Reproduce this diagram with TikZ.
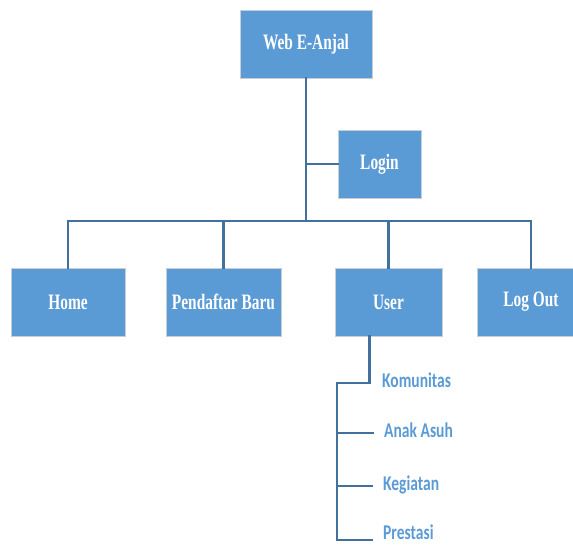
\documentclass[tikz,border=0pt]{standalone}
\usepackage{fontspec}
\setmainfont{Liberation Serif}[FakeStretch=0.70]
\newfontfamily\labelfont{Carlito}[FakeStretch=0.74]
\definecolor{boxblue}{HTML}{5B9BD5}
\definecolor{linkblue}{HTML}{41719C}
\definecolor{boxedge}{HTML}{C9CED6}
\tikzset{
  menubox/.style={draw=boxedge, line width=0.8pt, fill=boxblue, text=white,
    minimum height=68pt, inner sep=0pt,
    font=\fontsize{22}{26}\selectfont\bfseries},
  sublabel/.style={anchor=west, text=boxblue, inner sep=0pt,
    text height=0.9em, text depth=0pt,
    font=\labelfont\fontsize{21}{25}\selectfont\bfseries},
  conn/.style={draw=linkblue, line width=2.6pt, line cap=rect}
}
\begin{document}
\begin{tikzpicture}[x=1pt,y=-1pt]
\useasboundingbox (0,0) rectangle (573,547);

% boxes
\node[menubox, minimum width=132pt] (web) at (306,44) {Web E-Anjal};
\node[menubox, minimum width=83pt] (login) at (379.5,164) {Login};
\node[menubox, minimum width=114pt] (home) at (68,302) {Home};
\node[menubox, minimum width=115pt] (pend) at (223.5,302) {Pendaftar Baru};
\node[menubox, minimum width=107pt] (user) at (388.5,302) {User};
\node[menubox, minimum width=108pt] (logout) at (531,302) {Log Out};

% sub-menu labels of User
\node[sublabel] (kom) at (382,383) {Komunitas};
\node[sublabel] (ana) at (384,433) {Anak Asuh};
\node[sublabel] (keg) at (383,486) {Kegiatan};
\node[sublabel] (pre) at (383,535) {Prestasi};

\coordinate (bus) at (306,221);
\coordinate (spine) at (337,0);
\coordinate (uout) at ([xshift=35pt]user.south west);

% main tree
\draw[conn] (web.south) -- (web.south |- bus);
\draw[conn] (login.west) -- (login.west -| web.south);
\draw[conn] (home.north) -- (home.north |- bus) -- (logout.north |- bus) -- (logout.north);
\draw[conn] (pend.north) -- (pend.north |- bus);
\draw[conn] (user.north) -- (user.north |- bus);

% user sub-tree
\draw[conn] (uout) -- (uout |- kom.west) -- (spine |- kom.west) -- (spine |- 0,540) -- (372,540);
\draw[conn] (spine |- ana.west) -- ([xshift=-11pt]ana.west);
\draw[conn] (spine |- keg.west) -- ([xshift=-11pt]keg.west);
\end{tikzpicture}
\end{document}
